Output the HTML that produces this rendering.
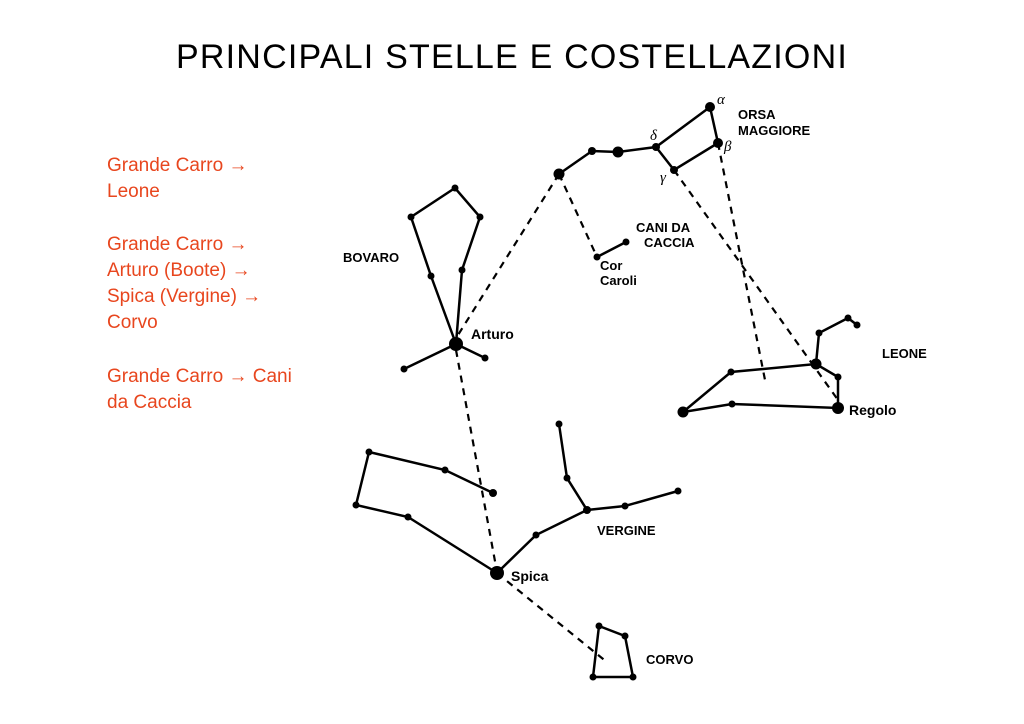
<!DOCTYPE html>
<html><head><meta charset="utf-8"><style>
body{margin:0;width:1024px;height:724px;background:#fff;position:relative;overflow:hidden;font-family:"Liberation Sans",sans-serif}
.t{position:absolute;left:0;width:1024px;top:38px;text-align:center;font-size:34px;color:#000;letter-spacing:1.2px}
.r{position:absolute;left:107px;color:#e8461e;font-size:19px;line-height:26px}
svg{position:absolute;left:0;top:0}
</style></head><body>
<div class="t">PRINCIPALI STELLE E COSTELLAZIONI</div>
<div class="r" style="top:153px">Grande Carro →<br>Leone</div>
<div class="r" style="top:232px">Grande Carro →<br>Arturo (Boote) →<br>Spica (Vergine) →<br>Corvo</div>
<div class="r" style="top:364px">Grande Carro → Cani<br>da Caccia</div>
<svg width="1024" height="724" viewBox="0 0 1024 724">
<g stroke="#000" stroke-width="2.5" fill="none">
<polyline points="559,174 592,151 618,152 656,147 710,107 718,143 674,170 656,147"/>
<polyline points="456,344 431,276 411,217 455,188 480,217 462,270 456,344"/>
<line x1="404" y1="369" x2="456" y2="344"/><line x1="456" y1="344" x2="485" y2="358"/>
<line x1="597" y1="257" x2="626" y2="242"/>
<polyline points="683,412 731,372 816,364 838,377 838,408 732,404 683,412"/>
<polyline points="816,364 819,333 848,318 857,325"/>
<polyline points="559,424 567,478 587,510 536,535 497,573"/>
<polyline points="587,510 625,506 678,491"/>
<polyline points="369,452 445,470 493,493"/>
<polyline points="369,452 356,505 408,517 497,573"/>
<polyline points="599,626 625,636 633,677 593,677 599,626"/>
</g>
<g stroke="#000" stroke-width="2.2" fill="none" stroke-dasharray="7,6">
<line x1="559" y1="174" x2="458" y2="335"/>
<line x1="559" y1="174" x2="597" y2="257"/>
<line x1="674" y1="170" x2="838" y2="400"/>
<line x1="718" y1="143" x2="766" y2="385"/>
<line x1="456" y1="350" x2="497" y2="572"/>
<line x1="497" y1="573" x2="608" y2="663"/>
</g>
<g fill="#000">
<circle cx="710" cy="107" r="5"/><circle cx="718" cy="143" r="5"/><circle cx="656" cy="147" r="4"/><circle cx="674" cy="170" r="4"/><circle cx="618" cy="152" r="5.5"/><circle cx="592" cy="151" r="4"/><circle cx="559" cy="174" r="5.5"/>
<circle cx="597" cy="257" r="3.5"/><circle cx="626" cy="242" r="3.5"/>
<circle cx="455" cy="188" r="3.5"/><circle cx="411" cy="217" r="3.5"/><circle cx="480" cy="217" r="3.5"/><circle cx="431" cy="276" r="3.5"/><circle cx="462" cy="270" r="3.5"/><circle cx="456" cy="344" r="7"/><circle cx="404" cy="369" r="3.5"/><circle cx="485" cy="358" r="3.5"/>
<circle cx="816" cy="364" r="5.5"/><circle cx="819" cy="333" r="3.5"/><circle cx="848" cy="318" r="3.5"/><circle cx="857" cy="325" r="3.5"/><circle cx="838" cy="377" r="3.5"/><circle cx="838" cy="408" r="6"/><circle cx="732" cy="404" r="3.5"/><circle cx="683" cy="412" r="5.5"/><circle cx="731" cy="372" r="3.5"/>
<circle cx="559" cy="424" r="3.5"/><circle cx="567" cy="478" r="3.5"/><circle cx="587" cy="510" r="4"/><circle cx="625" cy="506" r="3.5"/><circle cx="678" cy="491" r="3.5"/><circle cx="536" cy="535" r="3.5"/><circle cx="497" cy="573" r="7"/>
<circle cx="369" cy="452" r="3.5"/><circle cx="445" cy="470" r="3.5"/><circle cx="493" cy="493" r="4"/><circle cx="356" cy="505" r="3.5"/><circle cx="408" cy="517" r="3.5"/>
<circle cx="599" cy="626" r="3.5"/><circle cx="625" cy="636" r="3.5"/><circle cx="593" cy="677" r="3.5"/><circle cx="633" cy="677" r="3.5"/>
</g>
<g font-family="Liberation Sans,sans-serif" font-weight="bold" font-size="13" fill="#000">
<text x="738" y="119">ORSA</text><text x="738" y="135">MAGGIORE</text>
<text x="636" y="232">CANI DA</text><text x="644" y="247">CACCIA</text>
<text x="600" y="270">Cor</text><text x="600" y="285">Caroli</text>
<text x="343" y="262">BOVARO</text>
<text x="471" y="339" font-size="14">Arturo</text>
<text x="882" y="358">LEONE</text>
<text x="849" y="415" font-size="14">Regolo</text>
<text x="597" y="535">VERGINE</text>
<text x="511" y="581" font-size="14">Spica</text>
<text x="646" y="664">CORVO</text>
</g>
<g font-family="Liberation Serif,serif" font-style="italic" font-size="15" fill="#000">
<text x="717" y="104">α</text><text x="724" y="151">β</text><text x="650" y="140">δ</text><text x="660" y="182">γ</text>
</g>
</svg>
</body></html>
